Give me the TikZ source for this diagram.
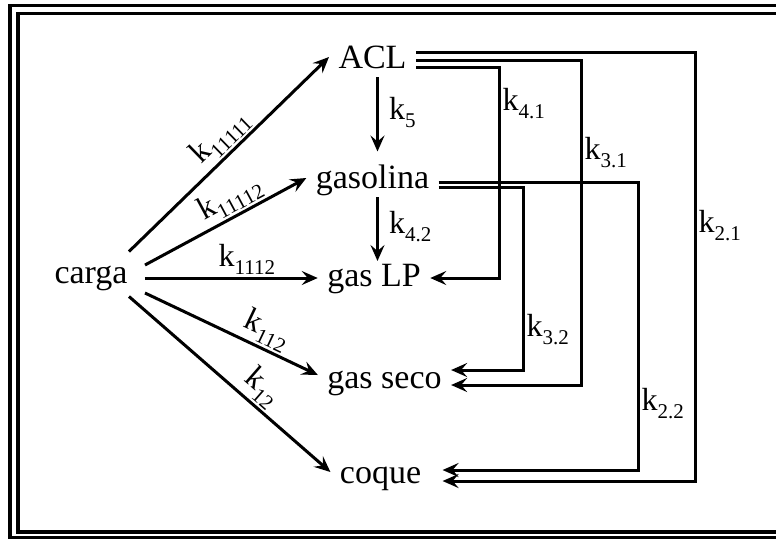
\documentclass[tikz,border=0pt]{standalone}
\usepackage{fontspec}
\setmainfont{Liberation Serif}
\usetikzlibrary{
    arrows.meta
}
\tikzset{
    >={Stealth[length=8pt,width=7pt,inset=3pt]},
    especie/.style={
        font=\fontsize{17}{20}\selectfont,
        inner xsep=4pt,
        inner ysep=0pt,
        text height=12pt,
        text depth=3.5pt
    },
    tasa/.style={
        font=\fontsize{16}{19}\selectfont,
        inner sep=1pt
    },
    marco/.style={
        line width=1.7pt
    }
}
\newcommand{\kk}[1]{k\raisebox{-4pt}{\fontsize{10.5}{10.5}\selectfont #1}}

\begin{document}
\begin{tikzpicture}[
    x=0.5pt,
    y=-0.5pt,
    line width=1.5pt
]

    \useasboundingbox (0,0) rectangle (776,538);
    \clip (0,0) rectangle (776,538);

    % Marco doble
    \draw[marco] (776,5.5) -- (10,5.5) -- (10,538) -- (776,538);
    \draw[marco] (776,13.5) -- (18,13.5) -- (18,532) -- (776,532);

    % Especies
    \node[especie, inner xsep=8pt, minimum height=22pt]
                            (carga)    at (91,275)    {carga};
    \node[especie]          (acl)      at (372.5,60)  {ACL};
    \node[especie]          (gasolina) at (372.5,180) {gasolina};
    \node[especie]          (glp)      at (374,278)   {gas LP};
    \node[especie]          (gseco)    at (384.5,380) {gas seco};
    \node[especie]          (coque)    at (380.5,475) {coque};

    % Reacciones desde la carga
    \path[->]
        ([xshift=-8pt]carga.north east)
            edge node[tasa, sloped, above, pos=.52] {\kk{11111}} ([yshift=1.5pt]acl.west)
        ([yshift=5pt]carga.east)
            edge node[tasa, sloped, above, pos=.58] {\kk{11112}} ([yshift=1pt]gasolina.west)
        (carga.east |- glp)
            edge node[tasa, above, pos=.59] {\kk{1112}} (glp.west)
        ([yshift=-9pt]carga.east)
            edge node[tasa, sloped, above, pos=.66] {\kk{112}} ([yshift=2.5pt]gseco.west)
        ([xshift=-8pt,yshift=1pt]carga.south east)
            edge node[tasa, sloped, above, pos=.6] {\kk{12}} ([yshift=1.5pt]coque.west)

        % Reacciones en serie
        ([xshift=2.5pt]acl.south)
            edge[shorten >=5.75pt]
                node[tasa, right=4pt, pos=.41] {\kk{5}}
                ([xshift=2.5pt]acl.south |- gasolina.north)
        ([xshift=2.5pt]gasolina.south)
            edge node[tasa, right=4pt, pos=.455] {\kk{4.2}}
                ([xshift=2.5pt]gasolina.south |- glp.north);

    % Tramos verticales
    \coordinate (k41) at (499,104);
    \coordinate (k31) at (581,153);
    \coordinate (k21) at (695,226);
    \coordinate (k32) at (523,330);
    \coordinate (k22) at (638,404);

    % Desde ACL
    \draw[->] ([yshift=-3.5pt]acl.east) -| (k41) node[tasa, right] {\kk{4.1}}
        |- (glp.east);
    \draw[->] (acl.east) -| (k31) node[tasa, right] {\kk{3.1}}
        |- ([yshift=-2.5pt]gseco.east);
    \draw[->] ([yshift=4pt]acl.east) -| (k21) node[tasa, right] {\kk{2.1}}
        |- ([xshift=6pt,yshift=-3pt]coque.east);

    % Desde gasolina
    \draw[->] ([yshift=-3.5pt]gasolina.east) -| (k32) node[tasa, right] {\kk{3.2}}
        |- ([yshift=5pt]gseco.east);
    \draw[->] ([yshift=-1pt]gasolina.east) -| (k22) node[tasa, right] {\kk{2.2}}
        |- ([xshift=6pt,yshift=2.5pt]coque.east);

\end{tikzpicture}
\end{document}
